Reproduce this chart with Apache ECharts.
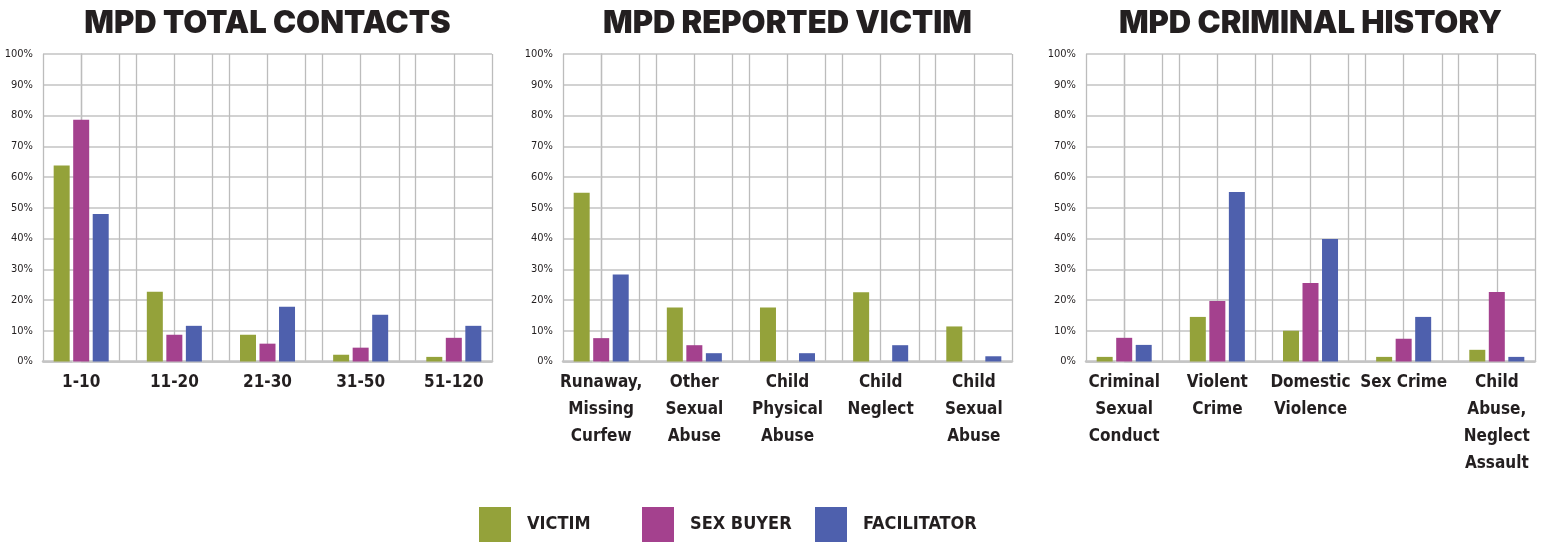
<!DOCTYPE html>
<html>
<head>
<meta charset="utf-8">
<script src="https://cdn.jsdelivr.net/npm/echarts@6/dist/echarts.min.js"></script>
<style>
  html, body { margin: 0; padding: 0; background: #fff; }
  #chart { width: 1545px; height: 542px; }
</style>
</head>
<body>
<div id="chart"></div>
<script>
  // --- data ---
  var seriesNames = ['VICTIM', 'SEX BUYER', 'FACILITATOR'];
  var chartTitles = ['MPD TOTAL CONTACTS', 'MPD REPORTED VICTIM', 'MPD CRIMINAL HISTORY'];

  var contactsCats = ['1-10', '11-20', '21-30', '31-50', '51-120'];
  var contactsVictim = [63.7, 22.7, 8.7, 2.2, 1.5];
  var contactsBuyer = [78.6, 8.7, 5.8, 4.5, 7.7];
  var contactsFacil = [48.0, 11.6, 17.8, 15.2, 11.6];

  var victimCats = ['Runaway,\nMissing\nCurfew', 'Other\nSexual\nAbuse', 'Child\nPhysical\nAbuse', 'Child\nNeglect', 'Child\nSexual\nAbuse'];
  var victimVictim = [54.9, 17.6, 17.6, 22.5, 11.4];
  var victimBuyer = [7.6, 5.3, 0, 0, 0];
  var victimFacil = [28.3, 2.7, 2.7, 5.3, 1.7];

  var historyCats = ['Criminal\nSexual\nConduct', 'Violent\nCrime', 'Domestic\nViolence', 'Sex Crime', 'Child\nAbuse,\nNeglect\nAssault'];
  var historyVictim = [1.5, 14.5, 10.0, 1.5, 3.8];
  var historyBuyer = [7.7, 19.7, 25.5, 7.4, 22.6];
  var historyFacil = [5.4, 55.1, 39.8, 14.5, 1.5];

  // --- style ---
  var colors = ['#94a23a', '#a4418e', '#4e60ad'];
  var NARROW = "'DejaVu Sans Condensed', 'Liberation Sans Narrow', sans-serif";
  var gridLefts = [43, 563, 1086];
  var gridWidth = 449;
  var half = 0.41;

  var charts = [
    {cats: contactsCats, vals: [contactsVictim, contactsBuyer, contactsFacil]},
    {cats: victimCats, vals: [victimVictim, victimBuyer, victimFacil]},
    {cats: historyCats, vals: [historyVictim, historyBuyer, historyFacil]}
  ];

  var grids = [], xAxes = [], yAxes = [], series = [], graphics = [];

  charts.forEach(function (c, gi) {
    grids.push({left: gridLefts[gi], width: gridWidth, top: 54, height: 307.5});

    // vertical lines: at each category centre and +-half
    var lines = [];
    var centres = [];
    c.cats.forEach(function (name, i) {
      lines.push(i - half, i, i + half);
      centres.push(i);
    });

    xAxes.push({
      type: 'value',
      gridIndex: gi,
      min: -half,
      max: c.cats.length - 1 + half,
      axisLine: {show: true, onZero: false, lineStyle: {color: '#c4c4c4', width: 2.5}},
      axisTick: {show: false, customValues: lines},
      splitLine: {show: true, lineStyle: {color: '#bcbcbc', width: 1.3}},
      axisLabel: {
        customValues: centres,
        formatter: function (v) { return c.cats[Math.round(v)]; },
        color: '#231f20',
        fontFamily: NARROW,
        fontWeight: 'bold',
        fontSize: 17,
        lineHeight: 27,
        margin: 8
      }
    });

    yAxes.push({
      type: 'value',
      gridIndex: gi,
      min: 0,
      max: 100,
      interval: 10,
      axisLine: {show: true, lineStyle: {color: '#bcbcbc', width: 1.3}},
      axisTick: {show: true, inside: false, length: 9, lineStyle: {color: '#d2d2d2', width: 2}},
      splitLine: {show: true, lineStyle: {color: '#d2d2d2', width: 2}},
      axisLabel: {
        formatter: '{value}%',
        color: '#231f20',
        fontFamily: NARROW,
        fontSize: 11,
        margin: 10
      }
    });

    c.vals.forEach(function (arr, si) {
      series.push({
        name: seriesNames[si],
        type: 'bar',
        xAxisIndex: gi,
        yAxisIndex: gi,
        barWidth: 16,
        barGap: '22%',
        itemStyle: {color: colors[si]},
        data: arr.map(function (v, i) { return [i, v]; })
      });
    });

    graphics.push({
      type: 'text',
      x: gridLefts[gi] + gridWidth / 2,
      y: 8,
      style: {
        text: chartTitles[gi],
        fill: '#231f20',
        font: "900 31px Inter, 'Noto Sans', sans-serif",
        align: 'center'
      }
    });
  });

  var legendLefts = [479, 642, 815];
  var legends = seriesNames.map(function (n, i) {
    return {
      data: [n],
      left: legendLefts[i],
      top: 507,
      padding: 0,
      icon: 'rect',
      itemWidth: 32,
      itemHeight: 35,
      selectedMode: false,
      textStyle: {
        color: '#231f20',
        fontFamily: NARROW,
        fontWeight: 'bold',
        fontSize: 18,
        padding: [0, 0, 0, 11]
      }
    };
  });

  var myChart = echarts.init(document.getElementById('chart'));
  var chartsOption = {
    animation: false,
    backgroundColor: '#fff',
    color: colors,
    grid: grids,
    xAxis: xAxes,
    yAxis: yAxes,
    legend: legends,
    graphic: graphics,
    series: series
  };
  chartsOption && myChart.setOption(chartsOption, true);
</script>
</body>
</html>
